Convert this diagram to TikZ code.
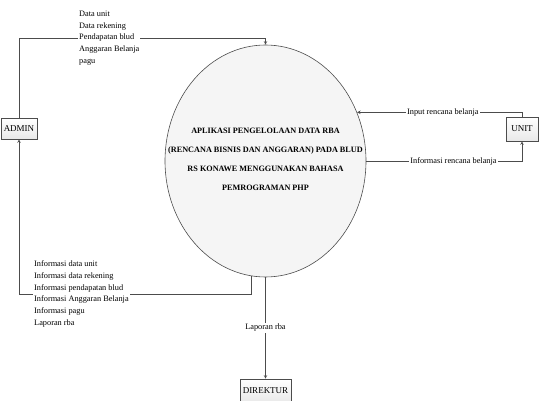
\documentclass[tikz,border=0pt]{standalone}
\usepackage{fontspec}
\setmainfont{Liberation Serif}
\usetikzlibrary{arrows,shapes.geometric}

\begin{document}
\begin{tikzpicture}[x=1pt,y=-1pt]
    \tikzstyle{flow} = [draw=black!70, line width=0.6pt]
    \tikzstyle{flowto} = [flow,->,>=stealth]
    \tikzstyle{entity} = [draw=black!70, line width=0.6pt, top color=white, bottom color=gray!18, inner sep=2pt, font=\fontsize{9}{10}\selectfont]
    \tikzstyle{process} = [ellipse, draw=black!70, line width=0.6pt, fill=gray!8, minimum width=201pt, minimum height=232pt, inner sep=0pt]
    \tikzstyle{flowtext} = [fill=white, inner sep=1pt, align=left, font=\fontsize{8.3}{11.7}\selectfont]
    \tikzstyle{proctext} = [align=center, font=\fontsize{8.2}{19}\selectfont\bfseries]

    \useasboundingbox (0,0) rectangle (539,401);

    % process
    \node[process] (proc) at (265.5,161) {};
    \node[proctext] (proctitle) at ([yshift=2pt]proc.center) {APLIKASI PENGELOLAAN DATA RBA\\(RENCANA BISNIS DAN ANGGARAN) PADA BLUD\\RS KONAWE MENGGUNAKAN BAHASA\\PEMROGRAMAN PHP};

    % entities
    \node[entity, minimum width=36pt, minimum height=21pt] (admin) at (19,128.5) {ADMIN};
    \node[entity, minimum width=32pt, minimum height=24pt] (unit) at (522,129) {UNIT};
    \node[entity, minimum width=51pt, minimum height=24pt] (direktur) at (265.5,391) {DIREKTUR};

    % admin to process
    \coordinate (topbend) at (265.5,38);
    \draw[flowto] (admin.north) |- (topbend) -- (proc.north);
    \node[flowtext, anchor=west] (admindata) at (78,38) {Data unit\\Data rekening\\Pendapatan blud\\Anggaran Belanja\\pagu};

    % process to admin
    \coordinate (lowbend) at (19,294);
    \draw[flowto] (proc.263) |- (lowbend) -- (admin.south);
    \node[flowtext, anchor=west] (admininfo) at (33,294) {Informasi data unit\\Informasi data rekening\\Informasi pendapatan blud\\Informasi Anggaran Belanja\\Informasi pagu\\Laporan rba};

    % unit
    \draw[flowto] (unit.north) |- node[flowtext, pos=0.74] (inputlabel) {Input rencana belanja} (proc.28);
    \draw[flowto] (proc.east) -| node[flowtext, pos=0.28] (infolabel) {Informasi rencana belanja} (unit.south);

    % direktur
    \draw[flowto] (proc.south) -- node[flowtext] (reportlabel) {Laporan rba} (direktur.north);
\end{tikzpicture}
\end{document}
